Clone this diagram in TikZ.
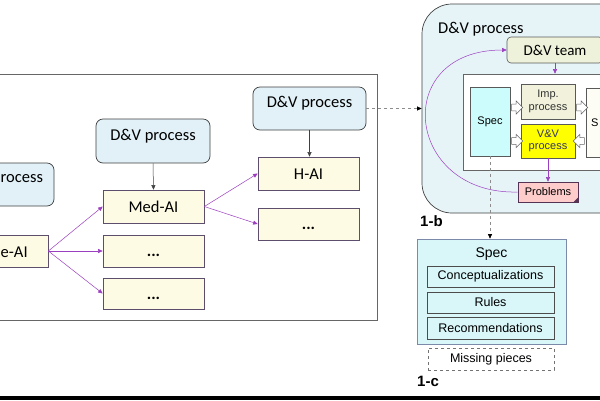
\documentclass[tikz,border=0pt]{standalone}
\usepackage{fontspec}
\setmainfont{Carlito}
\newfontfamily\arf{Liberation Sans}
\usetikzlibrary{shapes.arrows,arrows.meta}
\definecolor{dvblue}{HTML}{E1F1F7}
\definecolor{aifill}{HTML}{FDFBE3}
\definecolor{aiedge}{HTML}{5E4E6E}
\definecolor{purp}{HTML}{9B3FC0}
\definecolor{bigfill}{HTML}{E6F4F8}
\definecolor{teamfill}{HTML}{EFF2DA}
\definecolor{specfill}{HTML}{CCFCFC}
\definecolor{impfill}{HTML}{F2F2DC}
\definecolor{vvfill}{HTML}{FFFF00}
\definecolor{vvtext}{HTML}{333366}
\definecolor{sysfill}{HTML}{FDFDF5}
\definecolor{probfill}{HTML}{FFCCCC}
\definecolor{probedge}{HTML}{553355}
\definecolor{sbfill}{HTML}{D9F6F9}
\definecolor{sbedge}{HTML}{7A8AA8}
\tikzset{
  dvbox/.style={draw=black!75, fill=dvblue, rounded corners=7pt, line width=0.7pt,
    minimum width=114pt, minimum height=43pt, inner sep=0pt,
    font=\fontsize{16.5}{19}\selectfont, text height=12pt, text depth=14pt},
  aibox/.style={draw=aiedge, fill=aifill, line width=0.7pt, minimum width=101pt,
    minimum height=32pt, inner sep=0pt, font=\fontsize{16.5}{19}\selectfont,
    text height=11pt, text depth=0pt},
  bigtext/.style={font=\fontsize{16.5}{19}\selectfont, inner sep=0pt},
  aiarrow/.style={draw=purp, line width=0.5pt, -{Triangle[length=4.5pt,width=4pt]}},
  blkarrow/.style={draw=black!75, line width=0.5pt, -{Triangle[length=4.5pt,width=4pt]}},
  gdash/.style={draw=black!45, dashed, line width=0.6pt, -{Triangle[length=4.5pt,width=4pt,color=black]}},
  inbox/.style={draw=black!65, line width=0.6pt, inner sep=0pt, font=\arf\fontsize{11}{12.5}\selectfont, align=center},
  hollow/.style={single arrow, draw=black!60, fill=white, line width=0.5pt, inner sep=3pt,
    minimum height=11pt, minimum width=13pt, single arrow head extend=3pt},
  sbox/.style={draw=black!70, fill=sbfill, line width=0.6pt, minimum width=127pt,
    minimum height=21pt, inner sep=0pt, font=\arf\fontsize{12.5}{14}\selectfont},
  tag/.style={font=\arf\bfseries\fontsize{15}{17}\selectfont, anchor=base west, inner sep=0pt}
}
\begin{document}
\begin{tikzpicture}[x=1pt,y=-1pt]
\useasboundingbox (0,0) rectangle (600,400);
\clip (0,0) rectangle (600,400);
\fill[white] (0,0) rectangle (600,400);
% left frame
\draw[draw=black!60, line width=0.8pt] (-5,74) rectangle (377,320);
% D&V process boxes
\node[dvbox] (dvL) at (-3,184.5) {};
\node[bigtext, anchor=base west] (dvLtext) at (0.5,182.5) {rocess};
\node[dvbox, minimum height=44pt] (dvM) at (153,141) {D\&V process};
\node[dvbox, minimum width=113pt] (dvR) at (309.5,108.5) {D\&V process};
% AI boxes
\node[aibox] (base) at (-2.5,251) {};
\node[bigtext, anchor=base west] (basetext) at (0.5,257) {e-AI};
\node[aibox, minimum height=33pt] (med) at (153.5,206.5) {Med-AI};
\node[aibox] (d1) at (153.5,251) {\textbf{...}};
\node[aibox, minimum height=31pt] (d2) at (153.5,293.5) {\textbf{...}};
\node[aibox, minimum height=33pt] (hai) at (308.5,173.5) {H-AI};
\node[aibox] (d3) at (308.5,224) {\textbf{...}};
% arrows left
\draw[blkarrow] (dvM.south) -- (med.north);
\draw[blkarrow] (dvR.south) -- (dvR.south |- hai.north);
\draw[aiarrow] (base.east) -- (med.west);
\draw[aiarrow] (base.east) -- (d1.west);
\draw[aiarrow] (base.east) -- (d2.west);
\draw[aiarrow] (med.east) -- (hai.west);
\draw[aiarrow] (med.east) -- (d3.west);
% right big box
\node[draw=black!75, fill=bigfill, line width=0.7pt, rounded corners=30pt,
  minimum width=218pt, minimum height=209pt, inner sep=0pt] (dvbig) at (531,108.5) {};
\node[bigtext, anchor=base west] (bigtitle) at (438,33) {D\&V process};
\draw[gdash] (dvR.east) -- (dvbig.west);
\node[draw=black!65, fill=teamfill, line width=0.6pt, rounded corners=4pt, minimum width=96pt,
  minimum height=26pt, inner sep=0pt, font=\fontsize{15}{17}\selectfont] (team) at (555,50) {D\&V team};
\node[draw=black!60, fill=white, line width=0.6pt, minimum width=157pt, minimum height=96pt, inner sep=0pt] (inner) at (541.5,122) {};
\node[inbox, fill=specfill, minimum width=40pt, minimum height=69pt] (spec) at (490,121.5) {Spec};
\node[inbox, fill=impfill, minimum width=54pt, minimum height=35pt, text=black!80] (imp) at (548,101.5) {Imp.\\process};
\node[inbox, fill=vvfill, minimum width=54pt, minimum height=34pt, text=vvtext] (vv) at (548,141) {V\&V\\process};
\node[inbox, fill=sysfill, minimum width=54pt, minimum height=69pt] (sys) at (613,122.5) {};
\node[font=\arf\fontsize{11}{12.5}\selectfont, anchor=west, inner sep=0pt] (systext) at (591,123) {S};
\node[hollow] (ha1) at (515.5,107.5) {};
\node[hollow] (ha2) at (515.5,141) {};
\node[hollow] (ha3) at (580.5,107.5) {};
\node[hollow, shape border rotate=180] (ha4) at (580.5,141) {};
\node[draw=probedge, fill=probfill, line width=0.6pt, minimum width=60pt, minimum height=20pt,
  inner sep=0pt, font=\arf\fontsize{11}{12.5}\selectfont] (probs) at (548,192) {Problems};
\fill[probedge] (probs.south east) -- ++(-5,0) -- ++(5,-5) -- cycle;
\draw[aiarrow] (team.south) -- (team.south |- inner.north);
\draw[aiarrow] (vv.south) -- (probs.north);
\draw[aiarrow] (probs.west) .. controls (405,195) and (390,50) .. (team.west);
\node[tag] (tagb) at (420,226) {1-b};
% spec detail
\node[draw=sbedge, fill=sbfill, line width=0.7pt, minimum width=149pt, minimum height=105pt, inner sep=0pt] (specbig) at (491.5,291.5) {};
\draw[gdash] (spec.south) -- (spec.south |- specbig.north);
\node[font=\arf\fontsize{14}{16}\selectfont, anchor=base, inner sep=0pt] (spectitle) at (491.5,257) {Spec};
\node[sbox] (conc) at (490.5,276.5) {Conceptualizations};
\node[sbox] (rules) at (490.5,302.5) {Rules};
\node[sbox, minimum height=22pt] (recs) at (490.5,328) {Recommendations};
\node[draw=black!55, dashed, fill=white, line width=0.6pt, minimum width=126pt, minimum height=22pt,
  inner sep=0pt, font=\arf\fontsize{12.5}{14}\selectfont] (missing) at (491,359) {Missing pieces};
\node[tag] (tagc) at (417,386) {1-c};
% bottom bar
\fill[black] (0,396) rectangle (600,400);
\end{tikzpicture}
\end{document}
